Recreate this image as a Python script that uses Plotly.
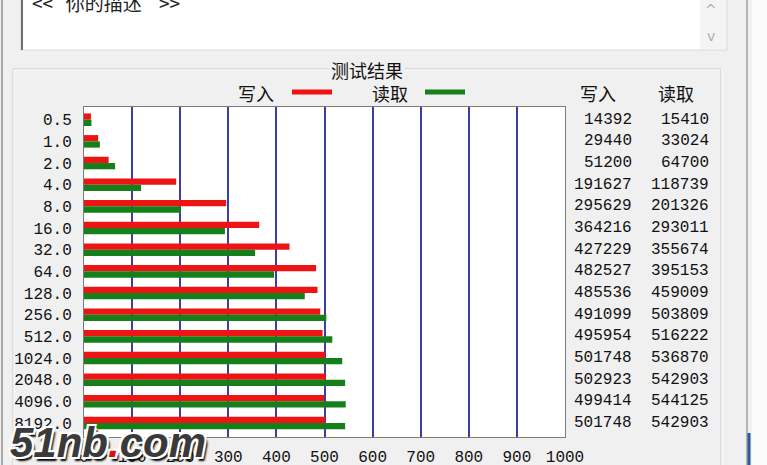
import plotly.graph_objects as go

# ---- data (ATTO-style benchmark, transfer size in KB, rates in KB/s) ----
block_sizes = ["0.5", "1.0", "2.0", "4.0", "8.0", "16.0", "32.0", "64.0", "128.0",
               "256.0", "512.0", "1024.0", "2048.0", "4096.0", "8192.0"]
write_kbs = [14392, 29440, 51200, 191627, 295629, 364216, 427229, 482527, 485536,
             491099, 495954, 501748, 502923, 499414, 501748]
read_kbs = [15410, 33024, 64700, 118739, 201326, 293011, 355674, 395153, 459009,
            503809, 516222, 536870, 542903, 544125, 542903]
x_ticks = [0, 100, 200, 300, 400, 500, 600, 700, 800, 900, 1000]
series_names = ["写入", "读取"]

W, H = 767, 465
def px(x):
    return x / W
def py(y):
    return 1 - y / H

RED = "#ee1414"
GREEN = "#15801a"
GRID = "#3d3da6"
BG = "#f0f0f0"
NUMFONT = "Liberation Mono"
CJK = "Noto Sans CJK SC"
TXT = "#111111"

fig = go.Figure()
fig.add_trace(go.Bar(y=block_sizes, x=[v / 1000 for v in write_kbs], orientation="h",
                     name=series_names[0], marker=dict(color=RED, line=dict(width=0))))
fig.add_trace(go.Bar(y=block_sizes, x=[v / 1000 for v in read_kbs], orientation="h",
                     name=series_names[1], marker=dict(color=GREEN, line=dict(width=0))))

shapes = []
# text box at top
shapes.append(dict(type="rect", xref="paper", yref="paper", x0=px(21), x1=px(727), y0=py(50), y1=py(-5),
                   fillcolor="white", line=dict(color="#d8d8d8", width=1), layer="below"))
shapes.append(dict(type="line", xref="paper", yref="paper", x0=px(22), x1=px(22), y0=py(50), y1=py(-5),
                   line=dict(color="#6e6e6e", width=2), layer="below"))
shapes.append(dict(type="rect", xref="paper", yref="paper", x0=px(700), x1=px(726), y0=py(49), y1=py(-5),
                   fillcolor="#f4f4f4", line=dict(width=0), layer="below"))
# description text (partly cut off at the top edge)
shapes.append(dict(type="rect", xref="paper", yref="paper", x0=px(26), x1=px(300), y0=py(23), y1=py(-13),
                   line=dict(width=0), fillcolor="rgba(0,0,0,0)", layer="above",
                   label=dict(text="<<   你的描述    >>", textposition="middle left",
                              font=dict(family=CJK, size=19, color="#222"))))
# window left border
shapes.append(dict(type="line", xref="paper", yref="paper", x0=px(2), x1=px(2), y0=0, y1=1,
                   line=dict(color="#a8a8a8", width=2), layer="below"))
# right side of window
shapes.append(dict(type="rect", xref="paper", yref="paper", x0=px(752), x1=1, y0=0, y1=1,
                   fillcolor="#fbfbfb", line=dict(width=0), layer="below"))
shapes.append(dict(type="line", xref="paper", yref="paper", x0=px(747), x1=px(747), y0=0, y1=1,
                   line=dict(color="#b4b4b4", width=2), layer="below"))
shapes.append(dict(type="line", xref="paper", yref="paper", x0=px(749), x1=px(749), y0=0, y1=py(433),
                   line=dict(color="#2b5a99", width=3), layer="below"))
# group box
for (x0, y0, x1, y1, c) in [(13, 69, 721, 69, "#c8c8c8"), (13, 70, 721, 70, "#ffffff"),
                            (13, 69, 13, 470, "#c8c8c8"), (14, 70, 14, 470, "#ffffff"),
                            (721, 69, 721, 470, "#c8c8c8"), (722, 69, 722, 470, "#ffffff")]:
    shapes.append(dict(type="line", xref="paper", yref="paper", x0=px(x0), x1=px(x1), y0=py(y0), y1=py(y1),
                       line=dict(color=c, width=1), layer="below"))
# legend swatches
shapes.append(dict(type="line", xref="paper", yref="paper", x0=px(292), x1=px(332), y0=py(92), y1=py(92),
                   line=dict(color=RED, width=5)))
shapes.append(dict(type="line", xref="paper", yref="paper", x0=px(425), x1=px(465), y0=py(92), y1=py(92),
                   line=dict(color=GREEN, width=5)))

def ann(text, x, y, size=18, family=CJK, color=TXT, **kw):
    d = dict(text=text, x=px(x), y=py(y), xref="paper", yref="paper", showarrow=False,
             xanchor="center", yanchor="middle", font=dict(family=family, size=size, color=color))
    d.update(kw)
    return d

annotations = []
annotations.append(ann("^", 711, 10, size=14, family="DejaVu Sans", color="#b0b0b0"))
annotations.append(ann("v", 711, 36, size=14, family="DejaVu Sans", color="#b0b0b0"))
annotations.append(ann("测试结果", 367, 70, bgcolor=BG, borderpad=1))
annotations.append(ann(series_names[0], 256, 93))
annotations.append(ann(series_names[1], 390, 93))
annotations.append(ann(series_names[0], 598, 93))
annotations.append(ann(series_names[1], 676, 93))
for i, (w, r) in enumerate(zip(write_kbs, read_kbs)):
    annotations.append(dict(text=str(w), x=px(634), y=i, xref="paper", yref="y", xanchor="right",
                            yanchor="middle", showarrow=False, font=dict(family=NUMFONT, size=16, color=TXT)))
    annotations.append(dict(text=str(r), x=px(711), y=i, xref="paper", yref="y", xanchor="right",
                            yanchor="middle", showarrow=False, font=dict(family=NUMFONT, size=16, color=TXT)))
# watermark
annotations.append(dict(text="<b><i>51nb<span style='color:#e01010'>.</span>com</i></b>",
                        x=px(8), y=py(442), xref="paper", yref="paper", xanchor="left", yanchor="middle",
                        showarrow=False,
                        font=dict(family="Liberation Sans", size=42, color="#3a3a3a",
                                  shadow="2px 2px 0 #fff, -2px -2px 0 #fff, 2px -2px 0 #fff, -2px 2px 0 #fff, 3px 4px 2px #000")))

fig.update_layout(
    width=W, height=H,
    margin=dict(l=0, r=0, t=0, b=0),
    paper_bgcolor=BG, plot_bgcolor="white",
    barmode="group", bargap=0.42, bargroupgap=0,
    showlegend=False,
    shapes=shapes, annotations=annotations,
    xaxis=dict(domain=[px(84), px(565)], range=[0, 1000], tickvals=x_ticks,
               ticktext=[str(t) for t in x_ticks], showgrid=True, gridcolor=GRID, gridwidth=2,
               zeroline=False, showline=True, linecolor="#7c7c7c", linewidth=1, mirror=True,
               ticks="", ticklabelstandoff=5, automargin=False,
               tickfont=dict(family=NUMFONT, size=16, color=TXT), fixedrange=True),
    yaxis=dict(domain=[py(437), py(107)], type="category", categoryorder="array",
               categoryarray=block_sizes, range=[14.646, -0.586], automargin=False,
               showgrid=False, zeroline=False, showline=True, linecolor="#7c7c7c", linewidth=1,
               mirror=True, ticks="", ticklabelstandoff=8,
               tickfont=dict(family=NUMFONT, size=16, color=TXT), fixedrange=True),
)

fig.write_html("out.html", config={"displayModeBar": False},
               post_script="document.body.style.margin='0';document.body.style.overflow='hidden';")
